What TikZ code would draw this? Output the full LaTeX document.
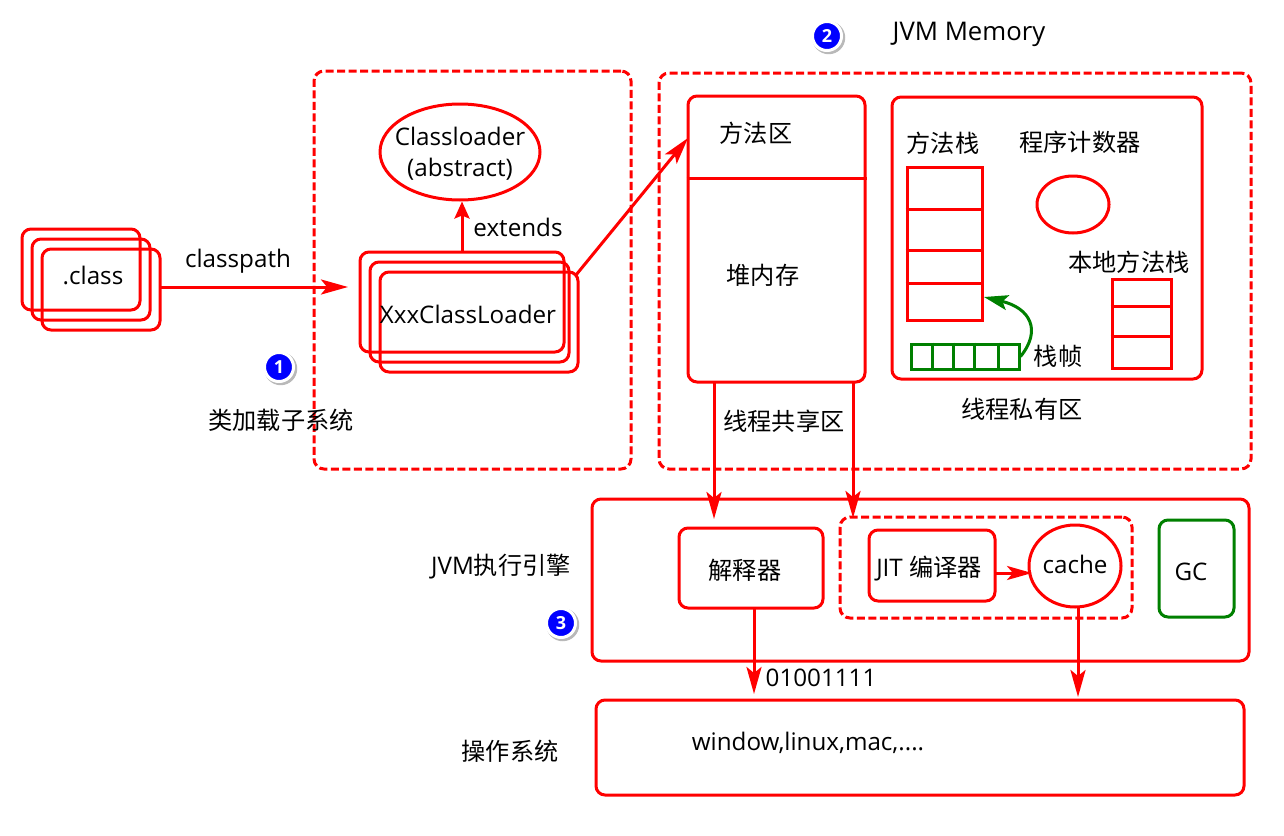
\documentclass[tikz,border=0pt]{standalone}
\usepackage{fontspec}
\setmainfont{Open Sans}
\newfontfamily\cjk{Noto Sans CJK SC}
\usetikzlibrary{shapes.geometric,arrows.meta,shadows}
\definecolor{jred}{RGB}{255,0,0}
\definecolor{jgreen}{RGB}{0,128,0}
\tikzstyle{rbox}=[draw=jred, line width=3pt, rounded corners=9pt, inner sep=0]
\tikzstyle{dbox}=[rbox, dash pattern=on 8pt off 3.5pt, rounded corners=10pt]
\tikzstyle{sbox}=[draw=jred, line width=3pt, inner sep=0]
\tikzstyle{fbox}=[draw=jgreen, line width=3pt, inner sep=0]
\tikzstyle{oval}=[draw=jred, line width=3pt, shape=ellipse, inner sep=0]
\tikzstyle{txt}=[inner sep=0, black, font=\fontsize{24.2}{29}\selectfont]
\tikzstyle{cn}=[txt, font=\fontsize{24.2}{29}\selectfont\cjk]
\tikzstyle{badge}=[shape=circle, minimum size=29pt, inner sep=0, fill=blue, draw=white, line width=3pt, text=white, font=\fontsize{18}{18}\selectfont\bfseries, drop shadow={shadow xshift=1.5pt, shadow yshift=-1.5pt, shadow scale=1.14, opacity=.55}]
\tikzstyle{arr}=[draw=jred, line width=3pt, -{Stealth[length=27pt, width=15pt, inset=6pt]}]
\begin{document}
\begin{tikzpicture}[x=1pt, y=-1pt]
\useasboundingbox (0,0) rectangle (1284,835);
% class files
\foreach \i in {0,1,2} {\node at (81+10*\i,269.5+10*\i)[rbox, minimum width=118pt, minimum height=81pt](class\i){};}
\node at (93,275)[txt](classname){.class};
\node at (238,261)[txt](classpath){classpath};
\coordinate (classend) at (348,287);
\coordinate (classout) at (161,287);
\draw[arr] (classout)--(classend);
% loader system
\node at (472.5,270)[dbox, minimum width=317pt, minimum height=398pt](loader){};
\node at (460,152)[oval, minimum width=160pt, minimum height=96pt](abstract){};
\node at (460,154)[txt, align=center, font=\fontsize{24.2}{31}\selectfont](abstractname){Classloader\\(abstract)};
\foreach \i/\x/\w in {0/462/204,1/469.5/199,2/479/198} {\node at (\x,302+10*\i)[rbox, minimum width=\w pt, minimum height=100pt](xxx\i){};}
\node at (468,314)[txt](xxxname){XxxClassLoader};
\node at (518,227)[txt](extends){extends};
\coordinate (xxxtop) at (462,252);
\draw[arr, -{Stealth[length=17pt, width=15pt, inset=3pt]}] (xxxtop)--(xxxtop |- abstract.south);
\node at (279,367)[badge](one){1};
\node at (281,420)[cn](loadername){类加载子系统};
% memory
\node at (955,271)[dbox, minimum width=592pt, minimum height=396pt](memory){};
\node at (827,36)[badge](two){2};
\node at (969,34)[txt, font=\fontsize{25.7}{30}\selectfont](memname){JVM Memory};
\node at (776.5,239)[rbox, minimum width=177pt, minimum height=286pt](heap){};
\draw[jred, line width=3pt] (heap.west |- 0,178)--(heap.east |- 0,178);
\node at (756,133)[cn](method){方法区};
\node at (763,275)[cn](heapname){堆内存};
\node at (784,421)[cn](shared){线程共享区};
\coordinate (xxxout) at (576,275);
\coordinate (methodin) at (688,138);
\draw[arr] (xxxout)--(methodin);
\node at (1047,238)[rbox, minimum width=310pt, minimum height=282pt](private){};
\node at (1022,409)[cn](privname){线程私有区};
\node at (943,143)[cn](mstackname){方法栈};
\node at (1080,142)[cn](counter){程序计数器};
\node at (1129,262)[cn](lstackname){本地方法栈};
\node at (1058,356)[cn](frame){栈帧};
\node at (944.5,243.5)[sbox, minimum width=75pt, minimum height=153pt](mstack){};
\foreach \y in {209,250,283} {\draw[jred, line width=3pt] (mstack.west |- 0,\y)--(mstack.east |- 0,\y);}
\node at (1073,204.5)[oval, minimum width=72pt, minimum height=57pt](pc){};
\node at (1141.5,323.5)[sbox, minimum width=59pt, minimum height=89pt](lstack){};
\foreach \y in {306,336} {\draw[jred, line width=3pt] (lstack.west |- 0,\y)--(lstack.east |- 0,\y);}
\node at (965,356.5)[fbox, minimum width=108pt, minimum height=25pt](frames){};
\foreach \x in {932,953,974,998} {\draw[jgreen, line width=3pt] (\x,0 |- frames.north)--(\x,0 |- frames.south);}
\coordinate (framein) at (984,297);
\draw[jgreen, line width=3pt, -{Stealth[length=24pt, width=15pt, inset=5pt]}] (frames.east) .. controls (1042,330) and (1030,308) .. (framein);
% engine
\node at (920.5,580)[rbox, minimum width=657pt, minimum height=162pt](engine){};
\node at (501,567)[txt](enginename){JVM{\cjk 执行引擎}};
\node at (561,623)[badge](three){3};
\node at (751,568)[rbox, minimum width=144pt, minimum height=80pt](interp){};
\node at (745,570)[cn](interpname){解释器};
\node at (986,567.5)[dbox, minimum width=292pt, minimum height=101pt](jit){};
\node at (932,565.5)[rbox, minimum width=126pt, minimum height=71pt](compiler){};
\node at (929,569)[txt](compname){JIT {\cjk 编译器}};
\node at (1075,566)[oval, minimum width=92pt, minimum height=82pt](cache){};
\node at (1075,564)[txt](cachename){cache};
\node at (1196.5,568.5)[rbox, draw=jgreen, minimum width=75pt, minimum height=97pt](gc){};
\node at (1191,572)[txt](gcname){GC};
\coordinate (heapout1) at (714,382);
\coordinate (heapout2) at (853,382);
\coordinate (interpin) at (714,519);
\coordinate (jitin) at (853,518);
\draw[arr] (heapout1)--(interpin);
\draw[arr] (heapout2)--(jitin);
\coordinate (compout) at (995,573);
\coordinate (cachein) at (1032,573);
\draw[arr, -{Stealth[length=25pt, width=14pt, inset=6pt]}] (compout)--(cachein);
% os
\node at (920,747.5)[rbox, minimum width=648pt, minimum height=95pt](os){};
\node at (510,751)[cn](osname){操作系统};
\node at (808,743)[txt](osnames){window,linux,mac,....};
\node at (821,678)[txt](binary){01001111};
\coordinate (interpout) at (754,608);
\coordinate (osin1) at (754,694);
\coordinate (cacheout) at (1078,607);
\coordinate (osin2) at (1078,697);
\draw[arr] (interpout)--(osin1);
\draw[arr] (cacheout)--(osin2);
\end{tikzpicture}
\end{document}
